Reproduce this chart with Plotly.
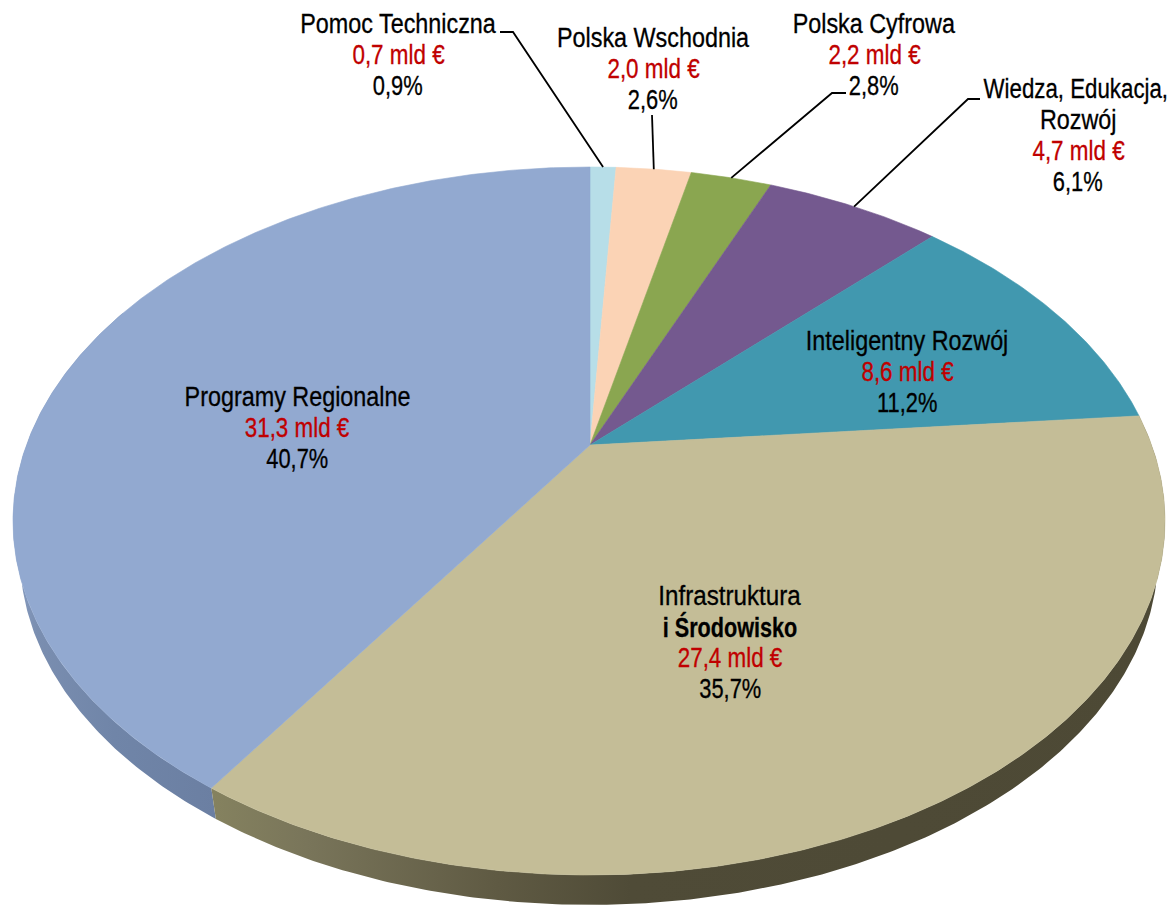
import numpy as np
import plotly.graph_objects as go

# ---- data (clockwise from 12 o'clock) ----
NAMES = ["Pomoc Techniczna", "Polska Wschodnia", "Polska Cyfrowa", "Wiedza, Edukacja,<br>Rozwój",
         "Inteligentny Rozwój", "Infrastruktura<br><b>i Środowisko</b>", "Programy Regionalne"]
AMOUNTS = ["0,7 mld €", "2,0 mld €", "2,2 mld €", "4,7 mld €", "8,6 mld €", "27,4 mld €", "31,3 mld €"]
SHARES = [0.9, 2.6, 2.8, 6.1, 11.2, 35.7, 40.7]
SHARE_LABELS = ["0,9%", "2,6%", "2,8%", "6,1%", "11,2%", "35,7%", "40,7%"]
COLORS = ["#b7dee8", "#fbd3b5", "#8aa650", "#74598f", "#4198af", "#c4bd97", "#92a9d0"]

# ---- layout / projection constants (pixels) ----
W, H = 1175, 905
CX, CY = 590.0, 445.0     # apex of the tilted disc
TOP, BOTTOM = 278.0, 430.0
HALF_RIGHT, HALF_LEFT = 575.0, 577.0
DEPTH, SHRINK = 35.0, 0.988
k = (BOTTOM - TOP) / (BOTTOM + TOP)
B = TOP * (1 + k)
FONT = "Liberation Sans"
FS = 27
RED = "#c00000"
# centre x and first-line y of each label, line pitch
LABEL_X = [398, 653, 874, 1078, 907, 730, 297]
LABEL_Y = [24, 38, 24, 89, 341, 596, 397]
PITCH = 31
WIEDZA_BOX_SHIFT = 12  # the un-narrowed box of this line must stay inside the page
WIEDZA_X = 1076
# leader elbows: text end, elbow
LEADERS = {0: [(500, 32), (513, 32)], 1: [(652, 115)], 2: [(846, 93), (832, 93)], 3: [(980, 99), (968, 99)]}


def rim(pct, lower=False):
    t = np.radians(np.asarray(pct, dtype=float) * 3.6)
    u, v = np.sin(t), np.cos(t)
    w = 1 + k * v
    half = np.where(u < 0, HALF_LEFT, HALF_RIGHT) * np.sqrt(1 - k * k)
    x, y = CX + half * u / w, CY - B * v / w
    if lower:
        x = CX + SHRINK * (x - CX)
        y = CY + DEPTH + SHRINK * (y - CY)
    return x, y


def arc(a, b, lower=False):
    return rim(np.linspace(a, b, max(int((b - a) * 8), 4)), lower)


cum = np.concatenate([[0], np.cumsum(SHARES)])
fig = go.Figure()


def side(a, b, scale):
    x1, y1 = arc(a, b)
    x2, y2 = arc(a, b, True)
    xs = np.r_[x1, x2[::-1], x1[0]]
    ys = np.r_[y1, y2[::-1], y1[0]]
    fig.add_trace(go.Scatter(x=xs, y=ys, mode="lines", fill="toself", line=dict(width=0), hoverinfo="skip",
                             fillgradient=dict(type="horizontal", colorscale=scale), showlegend=False))


side(cum[6], 82, [[0, "#8a9fc3"], [0.12, "#7a8eb0"], [0.5, "#7085a8"], [1, "#6b7fa2"]])
side(cum[5], cum[6], [[0, "#85825f"], [0.1, "#79755a"], [0.3, "#5f5a43"], [0.44, "#4f4b37"], [1, "#4d4935"]])

for i, c in enumerate(COLORS):
    x, y = arc(cum[i], cum[i + 1])
    fig.add_trace(go.Scatter(x=np.r_[CX, x, CX], y=np.r_[CY, y, CY], mode="lines", fill="toself", fillcolor=c,
                             line=dict(color=c, width=0.6), hoverinfo="skip", showlegend=False))

for i, pts in LEADERS.items():
    ex, ey = rim((cum[i] + cum[i + 1]) / 2)
    xs = [p[0] for p in pts] + [float(ex)]
    ys = [p[1] for p in pts] + [float(ey)]
    fig.add_trace(go.Scatter(x=xs, y=ys, mode="lines", line=dict(color="black", width=1.8),
                             hoverinfo="skip", showlegend=False))

for i, name in enumerate(NAMES):
    lines = [(n, "black") for n in name.split("<br>")] + [(AMOUNTS[i], RED), (SHARE_LABELS[i], "black")]
    for j, (txt, col) in enumerate(lines):
        ax = WIEDZA_X - WIEDZA_BOX_SHIFT if txt.startswith("Wiedza") else LABEL_X[i]
        fig.add_annotation(x=ax, y=LABEL_Y[i] + j * PITCH, text=txt, showarrow=False, xanchor="center",
                           yanchor="middle", font=dict(family=FONT, size=FS, color=col))

fig.update_xaxes(range=[0, W], visible=False, fixedrange=True)
fig.update_yaxes(range=[H, 0], visible=False, fixedrange=True)
fig.update_layout(width=W, height=H, margin=dict(l=0, r=0, t=0, b=0), paper_bgcolor="white",
                  plot_bgcolor="white", showlegend=False)

# The reference uses a narrow sans face that is not installed: narrow the real text glyphs instead.
POST = """
document.body.style.margin='0';document.body.style.overflow='hidden';
document.querySelectorAll('.annotation-text').forEach(function(t){
  var n=t.getComputedTextLength(), s=t.textContent;
  var f=s.indexOf('€')>=0?0.83:(s.indexOf('%%')>=0?0.81:0.865);
  if(s.indexOf('Wiedza')>=0){f=0.825;t.setAttribute('dx','%d');}
  if(s.indexOf('Infra')>=0){f=0.895;}
  if(s.indexOf('rodowisko')>=0){f=0.80;}
  t.setAttribute('lengthAdjust','spacingAndGlyphs');
  t.setAttribute('textLength',(n*f).toFixed(1));
  t.style.stroke=t.style.fill; t.style.strokeWidth='0.3px';
});
""" % WIEDZA_BOX_SHIFT
fig.write_html("out.html", config={"displayModeBar": False}, post_script=POST)
